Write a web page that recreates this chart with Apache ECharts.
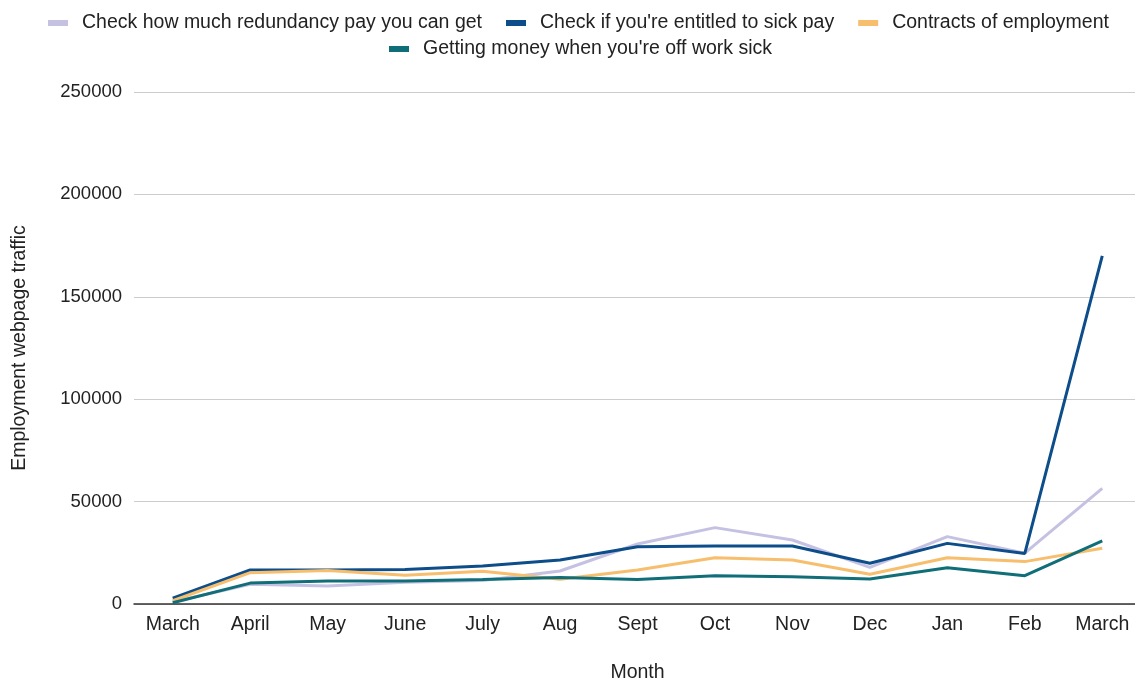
<!DOCTYPE html>
<html>
<head>
<meta charset="utf-8">
<script src="https://cdn.jsdelivr.net/npm/echarts@6/dist/echarts.min.js"></script>
<style>
html,body{margin:0;padding:0;background:#fff;}
#chart{width:1135px;height:680px;}
</style>
</head>
<body>
<div id="chart"></div>
<script>
const categories = ['March','April','May','June','July','Aug','Sept','Oct','Nov','Dec','Jan','Feb','March'];
const redundancy = [1000, 9600, 8800, 10600, 11500, 16100, 29300, 37300, 31250, 17900, 32900, 24800, 56500];
const sickPay = [2800, 16600, 16600, 16900, 18500, 21500, 28000, 28300, 28300, 19900, 29600, 24700, 170000];
const contracts = [1600, 15300, 16300, 14000, 16000, 12100, 16600, 22600, 21500, 14500, 22600, 20700, 27200];
const offSick = [600, 10200, 11200, 11200, 12000, 13000, 12000, 13800, 13300, 12200, 17700, 13800, 30800];

const names = ['Check how much redundancy pay you can get', "Check if you're entitled to sick pay", 'Contracts of employment', "Getting money when you're off work sick"];
const colors = ['#c5c1e3', '#0c4d8a', '#f7be6d', '#0f6e78'];
const values = [redundancy, sickPay, contracts, offSick];

const font = 'Liberation Sans, Arial, sans-serif';
const legendText = {fontSize: 19.5, color: '#222', fontFamily: font, padding: [0,0,0,9]};

const chart = echarts.init(document.getElementById('chart'));
chart.setOption({
  backgroundColor: '#fff',
  animation: false,
  color: colors,
  legend: [
    {data: names.slice(0,3), left: 43, top: 8, itemWidth: 20, itemHeight: 6, itemGap: 24, icon: 'rect', textStyle: legendText},
    {data: names.slice(3), left: 384, top: 34, itemWidth: 20, itemHeight: 6, itemGap: 24, icon: 'rect', textStyle: legendText}
  ],
  grid: {left: 134, right: -6, top: 92, bottom: 76, containLabel: false, outerBoundsMode: 'none'},
  xAxis: {
    type: 'category',
    data: categories,
    boundaryGap: true,
    name: 'Month',
    nameLocation: 'middle',
    nameGap: 59,
    nameTextStyle: {fontSize: 19.5, color: '#222', fontFamily: font},
    axisLine: {lineStyle: {color: '#333', width: 1.5}},
    axisTick: {show: false},
    axisLabel: {fontSize: 19.5, color: '#222', fontFamily: font, margin: 11, interval: 0}
  },
  yAxis: {
    type: 'value',
    min: 0, max: 250000, interval: 50000,
    name: 'Employment webpage traffic',
    nameLocation: 'middle',
    nameGap: 104,
    nameTextStyle: {fontSize: 19.5, color: '#222', fontFamily: font},
    axisLine: {show: false},
    axisTick: {show: false},
    axisLabel: {fontSize: 18.5, color: '#222', fontFamily: font, margin: 12, formatter: v => String(v)},
    splitLine: {lineStyle: {color: '#cccccc', width: 1}}
  },
  series: values.map((v, i) => ({
    name: names[i],
    type: 'line',
    data: v,
    showSymbol: false,
    symbol: 'none',
    lineStyle: {width: 3, color: colors[i]},
    itemStyle: {color: colors[i]}
  }))
});
</script>
</body>
</html>
